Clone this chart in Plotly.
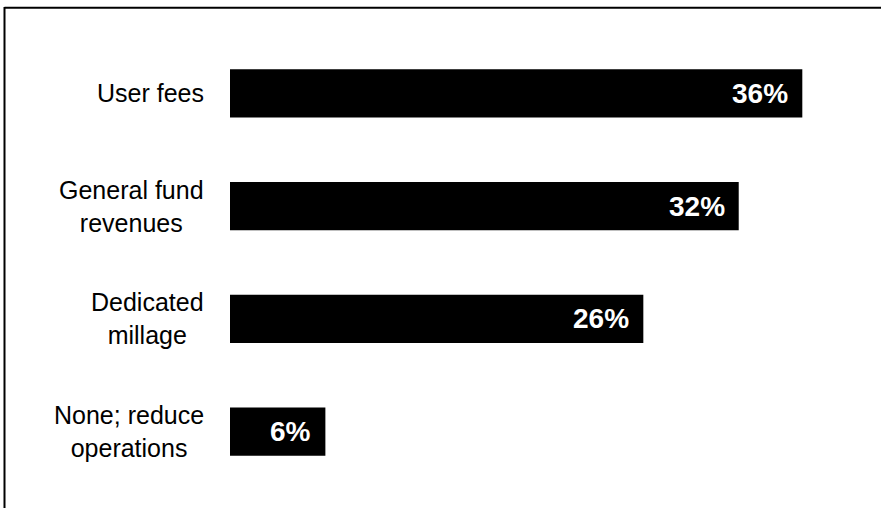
import plotly.graph_objects as go

categories = ["User fees", "General fund<br>revenues", "Dedicated<br>millage", "None; reduce<br>operations"]
values = [36, 32, 26, 6]
value_labels = ["36%", "32%", "26%", "6%"]

W, H = 881, 508
L, R, T, B = 230, 31, 37, 20
pw = W - L - R
ph = H - T - B

def px_to_paper_x(px):
    return (px - L) / pw

def px_to_paper_y(py):
    return 1 - (py - T) / ph

fig = go.Figure()
fig.add_trace(go.Bar(
    x=values, y=categories, orientation="h",
    marker=dict(color="#000000", line=dict(width=0)),
    hoverinfo="skip",
))

font_family = "Liberation Sans, Arial, sans-serif"
annotations = []
for cat, v, lab in zip(categories, values, value_labels):
    annotations.append(dict(
        x=px_to_paper_x(206), xref="paper", y=cat, yref="y",
        text=cat, showarrow=False, xanchor="right", yanchor="middle", align="center",
        font=dict(family=font_family, size=25, color="#000000"),
    ))
    annotations.append(dict(
        x=v, xref="x", y=cat, yref="y",
        text="<b>" + lab + "</b>", showarrow=False, xanchor="right", yanchor="middle",
        xshift=-12,
        font=dict(family=font_family, size=28, color="#ffffff"),
    ))

shapes = [
    dict(type="line", xref="paper", yref="paper",
         x0=px_to_paper_x(4.5), x1=px_to_paper_x(W + 5),
         y0=px_to_paper_y(7.8), y1=px_to_paper_y(7.8),
         line=dict(color="#000000", width=2)),
    dict(type="line", xref="paper", yref="paper",
         x0=px_to_paper_x(4.5), x1=px_to_paper_x(4.5),
         y0=px_to_paper_y(7), y1=px_to_paper_y(H + 5),
         line=dict(color="#000000", width=2)),
]

fig.update_layout(
    width=W, height=H,
    margin=dict(l=L, r=R, t=T, b=B, pad=0),
    paper_bgcolor="#ffffff", plot_bgcolor="#ffffff",
    showlegend=False,
    bargap=0.574,
    xaxis=dict(range=[0, 39], visible=False, fixedrange=True),
    yaxis=dict(autorange="reversed", showticklabels=False, showgrid=False,
               zeroline=False, showline=False, ticks=""),
    annotations=annotations,
    shapes=shapes,
)

fig.write_html(
    "out.html",
    config={"displayModeBar": False},
    post_script="document.body.style.margin='0';document.body.style.overflow='hidden';",
)
